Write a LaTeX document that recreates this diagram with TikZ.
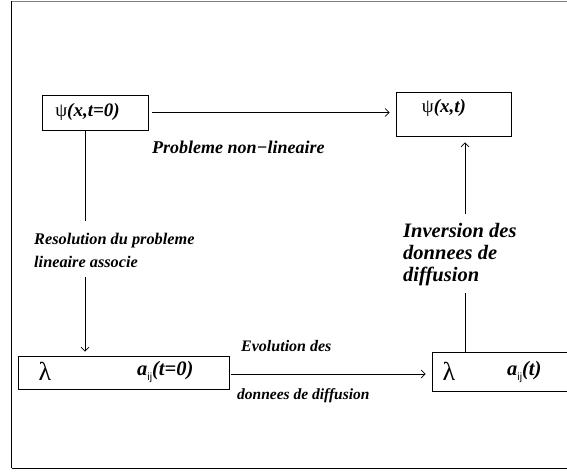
\documentclass[tikz,border=0pt]{standalone}
\usepackage{fontspec}
\setmainfont{Liberation Serif}
\newfontfamily\subsans{Liberation Sans}
\usetikzlibrary{arrows.meta}
\newcommand{\bi}[1]{\textbf{\textit{#1}}}
\newcommand{\aij}{\bi{a}\raisebox{-0.45ex}{\subsans\fontsize{10.5}{10.5}\selectfont ij}}
\begin{document}
\begin{tikzpicture}[x=1pt,y=-1pt,
  box/.style={draw, line width=0.8pt, inner sep=0pt},
  conn/.style={line width=0.8pt},
  arr/.style={conn, -{Straight Barb[length=4pt,width=8pt,line width=0.7pt]}},
  lab/.style={inner sep=0pt, anchor=west, align=left},
  txt/.style={inner sep=0pt}
]
\useasboundingbox (0,0) rectangle (567,473);
\clip (0,0) rectangle (567,473);
% frame
\draw[line width=0.9pt] (11.5,468) -- (11.5,1.5);
\draw[gray, line width=1.2pt] (11.5,1.5) -- (567,1.5);
\draw[line width=0.9pt] (11.5,468) -- (567,468);

% boxes
\node[box, minimum width=106pt, minimum height=35pt] (b1) at (95,112.5) {};
\node[txt, font=\fontsize{19}{19}\selectfont] (t1) at (87.5,112) {ψ\bi{(x,t=0)}};

\node[box, minimum width=115pt, minimum height=44pt] (b2) at (453.5,114) {};
\node[txt, font=\fontsize{19}{19}\selectfont] (t2) at (444,108) {ψ\bi{(x,t)}};

\node[box, minimum width=211pt, minimum height=33pt] (b3) at (123.5,372.5) {};
\node[txt, font=\fontsize{26}{26}\selectfont] (l3) at (45,371) {λ};
\node[txt, anchor=west, font=\fontsize{20.5}{20.5}\selectfont] (a3) at (137,372) {\aij\bi{(t=0)}};

\node[box, minimum width=168pt, minimum height=39pt] (b4) at (516,371.5) {};
\node[txt, font=\fontsize{26}{26}\selectfont] (l4) at (449,371) {λ};
\node[txt, anchor=west, font=\fontsize{20.5}{20.5}\selectfont] (a4) at (507,372) {\aij\bi{(t)}};

% labels
\node[lab, font=\bfseries\itshape\fontsize{18}{20}\selectfont] (pnl) at (152,147) {Probleme non−lineaire};
\node[lab, font=\bfseries\itshape\fontsize{16.3}{23}\selectfont] (res) at (34,250.5) {Resolution du probleme\\lineaire associe};
\node[lab, font=\bfseries\itshape\fontsize{16}{20}\selectfont] (evo) at (241,346) {Evolution des};
\node[lab, font=\bfseries\itshape\fontsize{15.5}{20}\selectfont] (don) at (237,396) {donnees de diffusion};
\node[lab, font=\bfseries\itshape\fontsize{20.5}{22}\selectfont] (inv) at (403,255) {Inversion des\\donnees de\\diffusion};

% connectors
\coordinate (lx) at (85,0);
\coordinate (rx) at (465,0);
\draw[arr, shorten <=4pt, shorten >=6pt] (b1.east) -- (b1.east -| b2.west);
\draw[conn] (lx |- b1.south) -- ([yshift=12pt]lx |- res.north);
\draw[arr, shorten >=4pt] ([yshift=-9pt]lx |- res.south) -- (lx |- b3.north);
\draw[arr, shorten <=2pt, shorten >=6pt] (b3.east |- b3.center) ++(0,1.5) -- ([yshift=-1.5pt]b3.center -| b4.west);
\draw[conn] (rx |- b4.north) -- ([yshift=-7pt]rx |- inv.south);
\draw[arr, shorten >=6pt] ([yshift=10pt]rx |- inv.north) -- (rx |- b2.south);
\end{tikzpicture}
\end{document}
